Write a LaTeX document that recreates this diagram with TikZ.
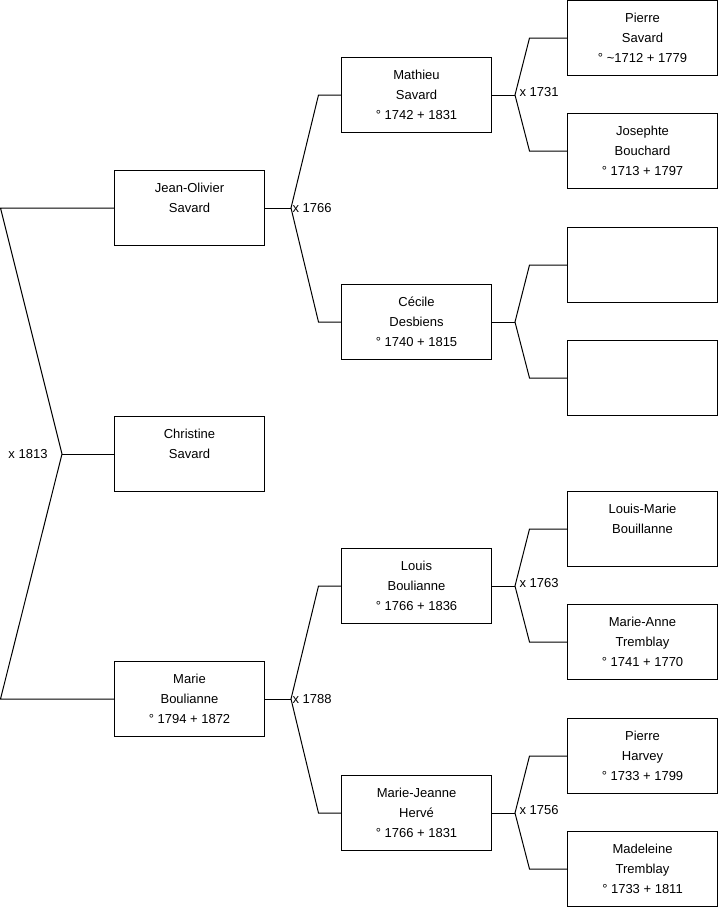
\documentclass[tikz,border=0pt]{standalone}
\usepackage{fontspec}
\setmainfont{Liberation Sans}
\usetikzlibrary{calc}
\newcommand{\indiv}[3]{\strut #1\\#2\\#3\strut}
\tikzset{
  p/.style={draw,minimum width=150,minimum height=75,inner sep=0pt,align=center,font=\fontsize{13}{20}\selectfont},
  lab/.style={inner sep=1pt,font=\fontsize{13}{15}\selectfont},
  every picture/.style={line width=1pt},
}
\begin{document}
\begin{tikzpicture}[x=1pt,y=-1pt]
\useasboundingbox (0,0) rectangle (719,908);
% children
\node[p] (jo) at (189.5,208){\indiv{Jean-Olivier}{Savard}{}};
\node[p] (cs) at (189.5,454){\indiv{Christine}{Savard}{}};
\node[p] (mb) at (189.5,699){\indiv{Marie}{Boulianne}{° 1794 + 1872}};
% parents
\node[p] (ms) at (416.5,95){\indiv{Mathieu}{Savard}{° 1742 + 1831}};
\node[p] (cd) at (416.5,322){\indiv{Cécile}{Desbiens}{° 1740 + 1815}};
\node[p] (lb) at (416.5,586){\indiv{Louis}{Boulianne}{° 1766 + 1836}};
\node[p] (mh) at (416.5,813){\indiv{Marie-Jeanne}{Hervé}{° 1766 + 1831}};
% grandparents
\node[p] (ps) at (642.5,38){\indiv{Pierre}{Savard}{° \textasciitilde1712 + 1779}};
\node[p] (jb) at (642.5,151){\indiv{Josephte}{Bouchard}{° 1713 + 1797}};
\node[p] (e1) at (642.5,265){\indiv{}{}{}};
\node[p] (e2) at (642.5,378){\indiv{}{}{}};
\node[p] (lmb) at (642.5,529){\indiv{Louis-Marie}{Bouillanne}{}};
\node[p] (mat) at (642.5,642){\indiv{Marie-Anne}{Tremblay}{° 1741 + 1770}};
\node[p] (ph) at (642.5,756){\indiv{Pierre}{Harvey}{° 1733 + 1799}};
\node[p] (mdt) at (642.5,869){\indiv{Madeleine}{Tremblay}{° 1733 + 1811}};
% marriages
\coordinate (m0) at (62,454); \coordinate (k0a) at (0.5,208); \coordinate (k0b) at (0.5,699);
\draw (jo.west) -- (k0a) -- (m0) -- (k0b) -- (mb.west); \draw (m0) -- (cs);
\node[lab,anchor=east] (l1813) at (49,454){x 1813};
\coordinate (m1) at (291,208); \coordinate (m2) at (291,699);
\draw (jo) -- (m1); \draw (mb) -- (m2);
\draw (ms.west) -- ($(ms.west)+(-22.5,0)$) -- (m1) -- ($(cd.west)+(-22.5,0)$) -- (cd.west);
\draw (lb.west) -- ($(lb.west)+(-22.5,0)$) -- (m2) -- ($(mh.west)+(-22.5,0)$) -- (mh.west);
\node[lab,anchor=west] (l1766) at (m1){x 1766};
\node[lab,anchor=west] (l1788) at (m2){x 1788};
\coordinate (m3) at (515,95); \coordinate (m4) at (515,322);
\coordinate (m5) at (515,586); \coordinate (m6) at (515,813);
\draw (ms) -- (m3); \draw (cd) -- (m4); \draw (lb) -- (m5); \draw (mh) -- (m6);
\draw (ps.west) -- ($(ps.west)+(-37.5,0)$) -- (m3) -- ($(jb.west)+(-37.5,0)$) -- (jb.west);
\draw (e1.west) -- ($(e1.west)+(-37.5,0)$) -- (m4) -- ($(e2.west)+(-37.5,0)$) -- (e2.west);
\draw (lmb.west) -- ($(lmb.west)+(-37.5,0)$) -- (m5) -- ($(mat.west)+(-37.5,0)$) -- (mat.west);
\draw (ph.west) -- ($(ph.west)+(-37.5,0)$) -- (m6) -- ($(mdt.west)+(-37.5,0)$) -- (mdt.west);
\node[lab,anchor=west] (l1731) at ($(m3)+(3,-3)$){x 1731};
\node[lab,anchor=west] (l1763) at ($(m5)+(3,-3)$){x 1763};
\node[lab,anchor=west] (l1756) at ($(m6)+(3,-3)$){x 1756};
\end{tikzpicture}
\end{document}
